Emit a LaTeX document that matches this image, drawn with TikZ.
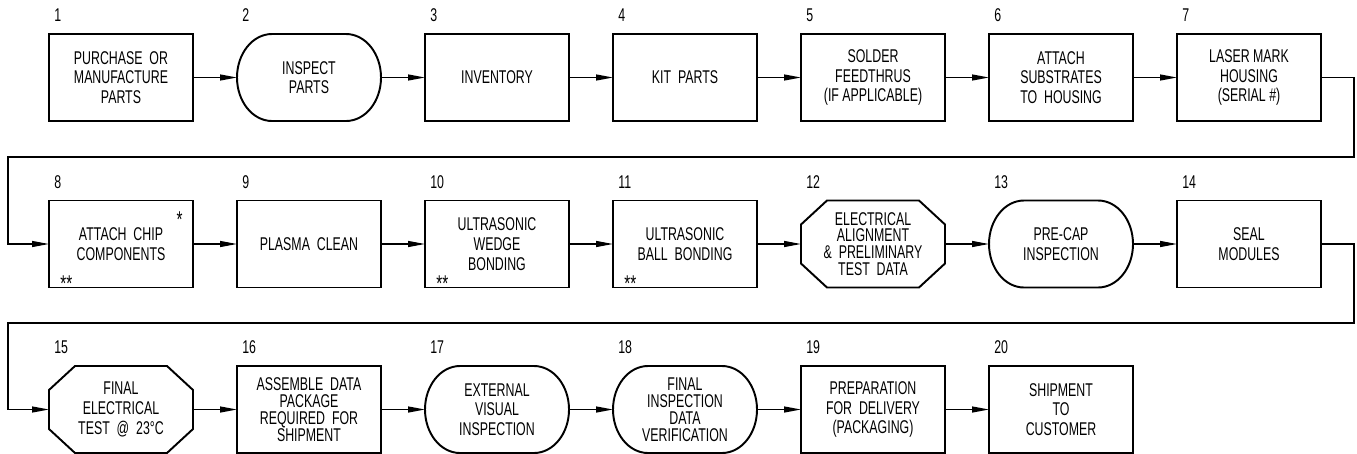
\documentclass[tikz,border=0pt]{standalone}
\usepackage{fontspec}
\setmainfont{Liberation Sans}[FakeStretch=0.67]
\usepackage{tikz}
\usetikzlibrary{arrows.meta, positioning, calc}

\begin{document}
\begin{tikzpicture}[
    stepbox/.style={draw, line width=1.1pt, rectangle, outer sep=0pt, minimum width=2.88cm, minimum height=1.74cm, align=center, font=\fontsize{10.5pt}{11.2pt}\selectfont},
    bare/.style={stepbox, draw=none},
    tight/.style={font=\fontsize{10.5pt}{9.6pt}\selectfont},
    edge/.style={line width=1.1pt},
    flow/.style={line width=0.7pt, -{Triangle[length=3.4mm, width=1.2mm]}},
    num/.style={inner sep=0pt, font=\fontsize{10.5pt}{11pt}\selectfont},
    note/.style={inner sep=0pt, font=\fontsize{13pt}{13pt}\selectfont}
]
    \useasboundingbox (0,0) rectangle (27.14,-9.06);

    % row 1
    \node[stepbox] (n1) at (2.42,-1.55) {PURCHASE~~OR\\MANUFACTURE\\PARTS};
    \node[bare, right=0.88cm of n1] (n2) {INSPECT\\PARTS};
    \node[stepbox, right=0.88cm of n2] (n3) {INVENTORY};
    \node[stepbox, right=0.88cm of n3] (n4) {KIT~~PARTS};
    \node[stepbox, right=0.88cm of n4] (n5) {SOLDER\\FEEDTHRUS\\(IF APPLICABLE)};
    \node[stepbox, right=0.88cm of n5] (n6) {ATTACH\\SUBSTRATES\\TO~~HOUSING};
    \node[stepbox, right=0.88cm of n6] (n7) {LASER MARK\\HOUSING\\(SERIAL \#)};

    % row 2
    \node[stepbox] (n8) at (2.42,-4.88) {ATTACH~~CHIP\\COMPONENTS};
    \node[stepbox, right=0.88cm of n8] (n9) {PLASMA~~CLEAN};
    \node[stepbox, right=0.88cm of n9] (n10) {ULTRASONIC\\WEDGE\\BONDING};
    \node[stepbox, right=0.88cm of n10] (n11) {ULTRASONIC\\BALL~~BONDING};
    \node[bare, tight, right=0.88cm of n11] (n12) {ELECTRICAL\\ALIGNMENT\\\&~~PRELIMINARY\\TEST~~DATA};
    \node[bare, right=0.88cm of n12] (n13) {PRE-CAP\\INSPECTION};
    \node[stepbox, right=0.88cm of n13] (n14) {SEAL\\MODULES};

    % row 3
    \node[bare] (n15) at (2.42,-8.19) {FINAL\\ELECTRICAL\\TEST~~@~~23°C};
    \node[stepbox, tight, right=0.88cm of n15] (n16) {ASSEMBLE~~DATA\\PACKAGE\\REQUIRED~~FOR\\SHIPMENT};
    \node[bare, right=0.88cm of n16] (n17) {EXTERNAL\\VISUAL\\INSPECTION};
    \node[bare, tight, right=0.88cm of n17] (n18) {FINAL\\INSPECTION\\DATA\\VERIFICATION};
    \node[stepbox, right=0.88cm of n18] (n19) {PREPARATION\\FOR~~DELIVERY\\(PACKAGING)};
    \node[stepbox, right=0.88cm of n19] (n20) {SHIPMENT\\TO\\CUSTOMER};

    % outlines of the rounded and cut-corner steps
    \foreach \n in {n2,n13,n17,n18}
        \draw[edge] ([xshift=0.7cm]\n.north west) -- ([xshift=-0.7cm]\n.north east)
            arc[start angle=90, end angle=-90, x radius=0.7cm, y radius=0.87cm]
            -- ([xshift=0.7cm]\n.south west)
            arc[start angle=270, end angle=90, x radius=0.7cm, y radius=0.87cm] -- cycle;
    \foreach \n in {n12,n15}
        \draw[edge] ([xshift=0.52cm]\n.north west) -- ([xshift=-0.52cm]\n.north east)
            -- ([yshift=-0.48cm]\n.north east) -- ([yshift=0.48cm]\n.south east)
            -- ([xshift=-0.52cm]\n.south east) -- ([xshift=0.52cm]\n.south west)
            -- ([yshift=0.48cm]\n.south west) -- ([yshift=-0.48cm]\n.north west) -- cycle;

    % step numbers
    \foreach \i in {1,...,20}
        \node[num, anchor=base west] (t\i) at ([xshift=0.1cm, yshift=0.25cm]n\i.north west) {\i};

    % asterisks
    \node[note, anchor=base east] (s8) at ([shift={(-0.2cm,-0.54cm)}]n8.north east) {*};
    \foreach \n in {n8,n10,n11}
        \node[note, anchor=base west] (d\n) at ([shift={(0.22cm,-0.08cm)}]\n.south west) {**};

    % arrows
    \foreach \a/\b in {n1/n2, n2/n3, n3/n4, n4/n5, n5/n6, n6/n7,
                       n8/n9, n9/n10, n10/n11, n11/n12, n12/n13, n13/n14,
                       n15/n16, n16/n17, n17/n18, n18/n19, n19/n20}
        \draw[flow] (\a.east) -- (\b.west);

    \coordinate (r1) at (27.08,-3.14);
    \coordinate (l1) at (0.16,-3.14);
    \coordinate (r2) at (27.08,-6.46);
    \coordinate (l2) at (0.16,-6.46);
    \draw[flow] (n7.east) -| (r1) -- (l1) |- (n8.west);
    \draw[flow] (n14.east) -| (r2) -- (l2) |- (n15.west);
\end{tikzpicture}
\end{document}
